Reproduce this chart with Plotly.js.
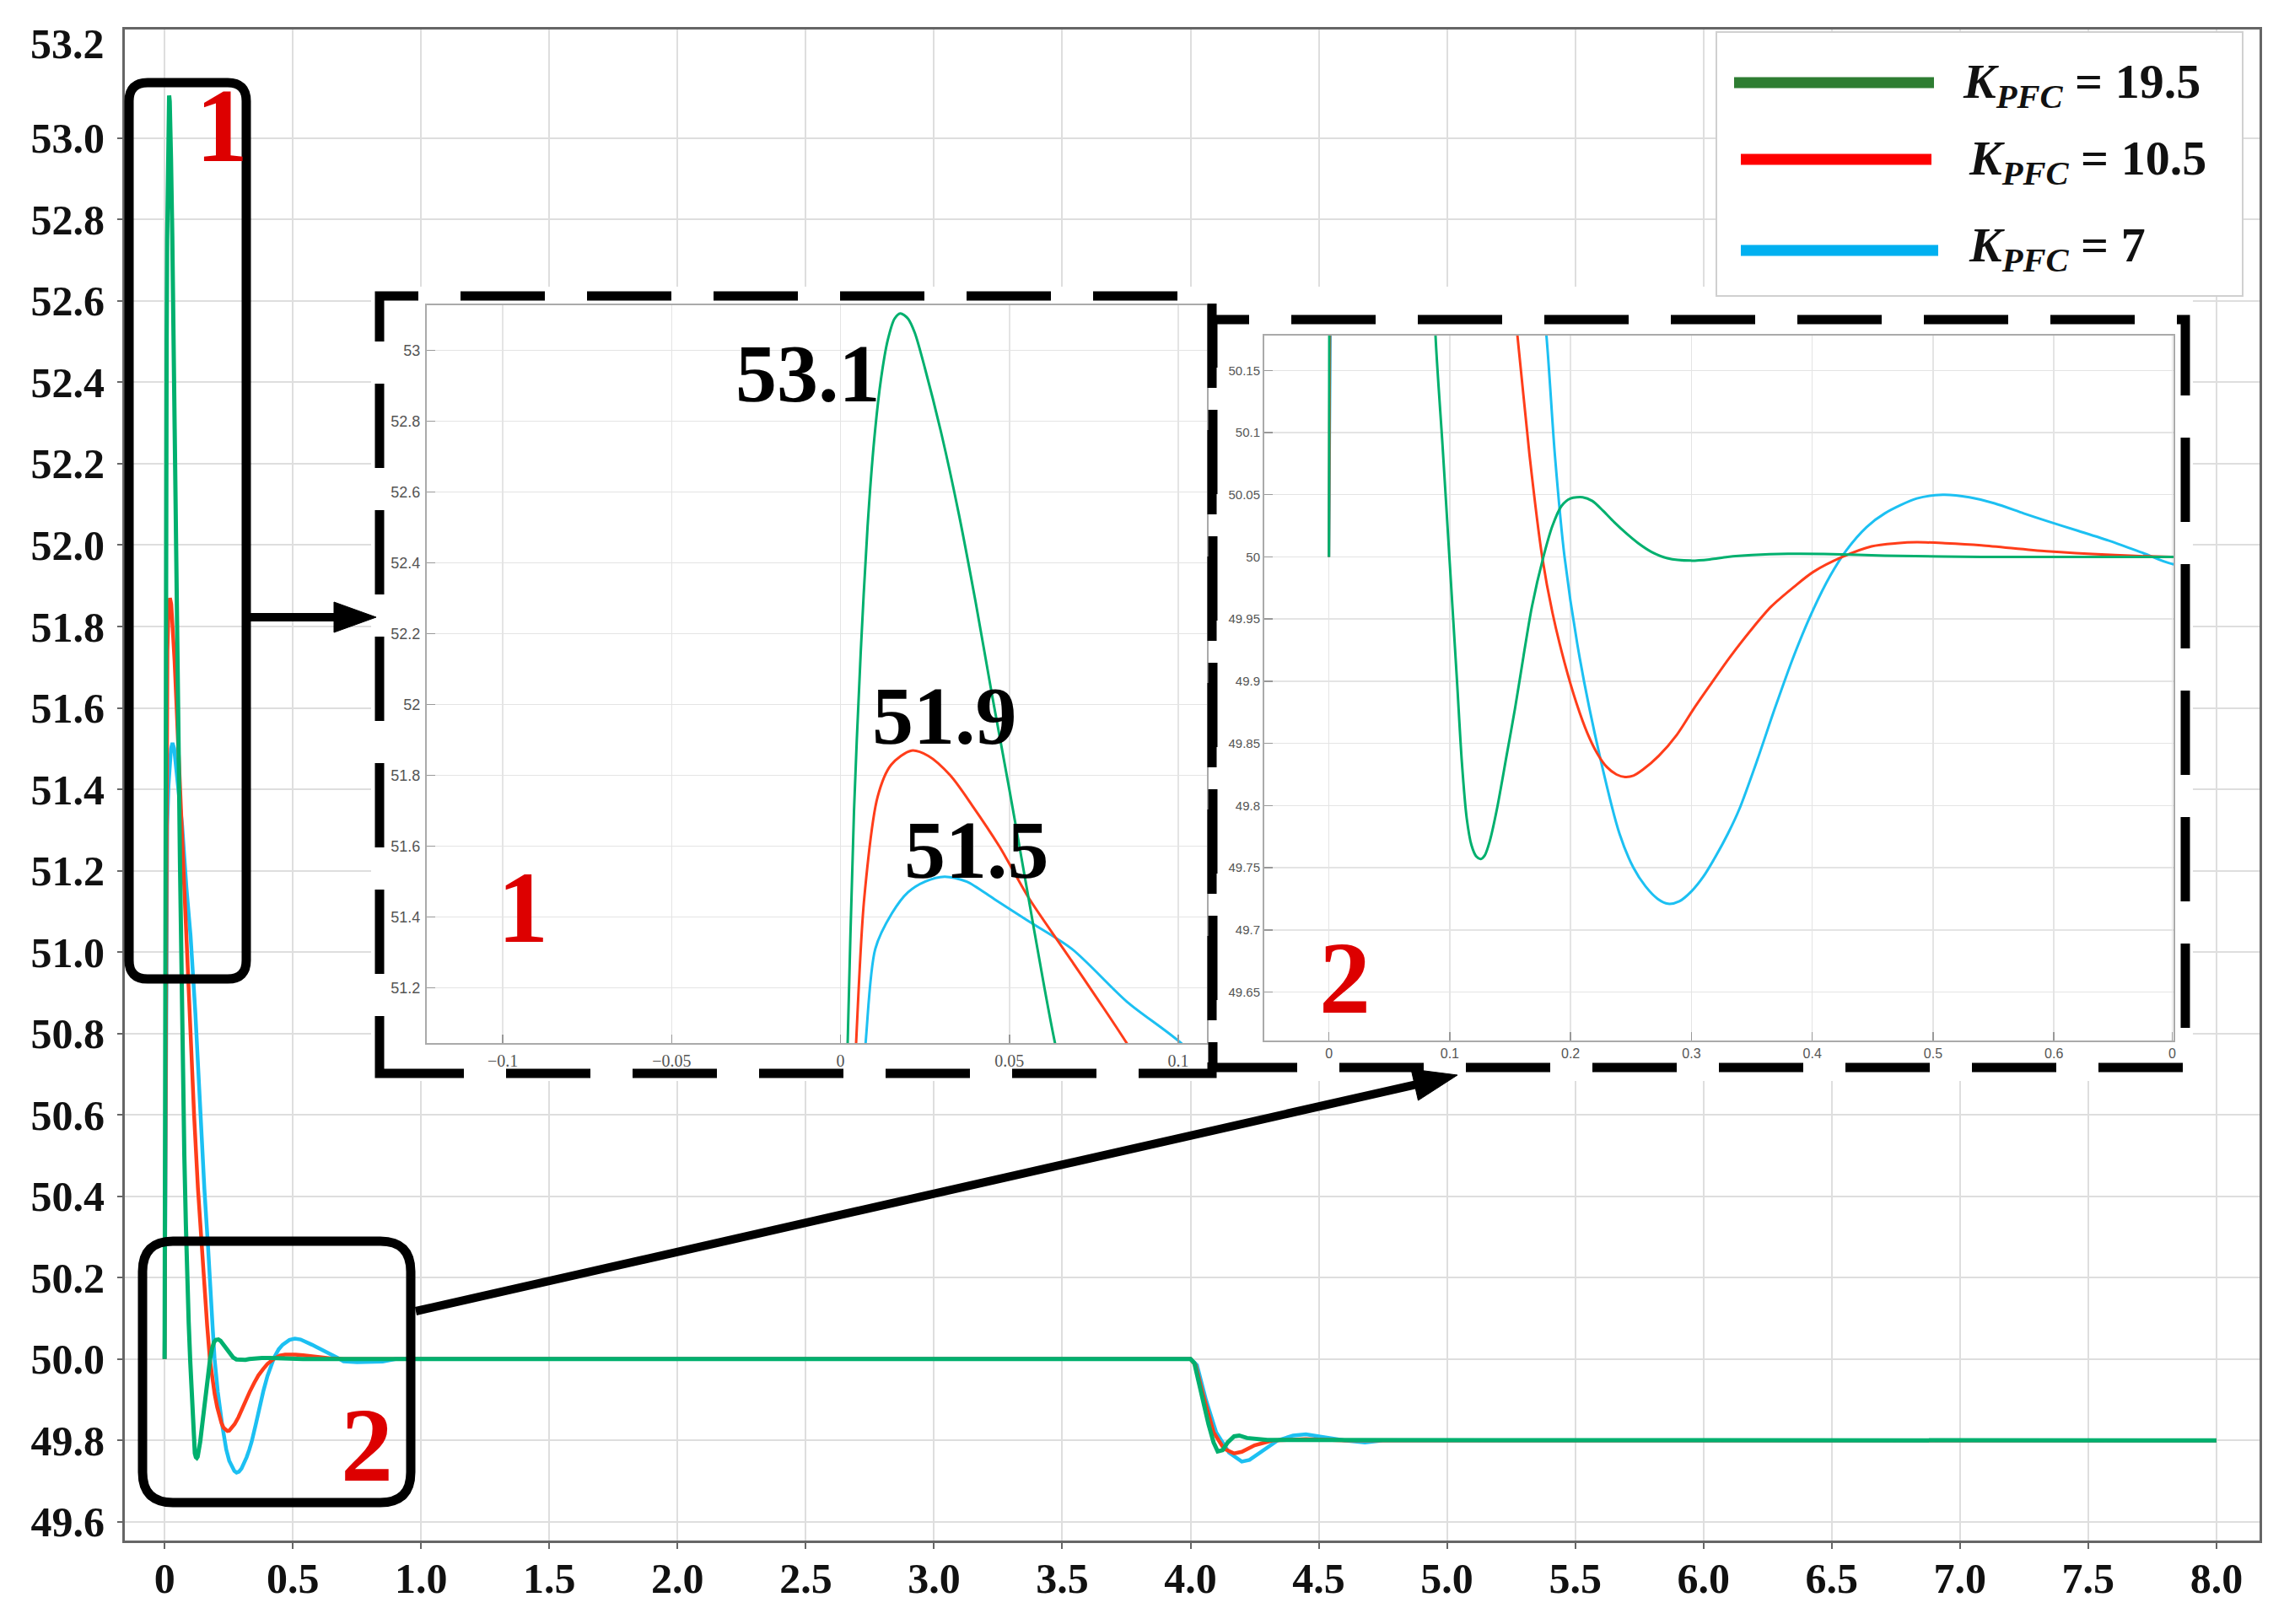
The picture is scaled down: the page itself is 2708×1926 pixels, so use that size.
<!DOCTYPE html>
<html><head><meta charset="utf-8">
<script src="https://cdn.plot.ly/plotly-3.0.1.min.js"></script>
<style>html,body{margin:0;padding:0;background:#fff;}</style>
</head><body><div id="chart" style="width:2708px;height:1926px;"></div>
<script>
// ---------------- data ----------------
const seriesNames = ['K_PFC = 19.5', 'K_PFC = 10.5', 'K_PFC = 7'];
const legendTexts = ['<i>K</i><sub><i>PFC</i></sub> = 19.5', '<i>K</i><sub><i>PFC</i></sub> = 10.5', '<i>K</i><sub><i>PFC</i></sub> = 7'];

const tGreen = [0, 0.001, 0.002, 0.004, 0.006, 0.008, 0.010, 0.012, 0.014, 0.016, 0.0177, 0.020, 0.022, 0.025, 0.030, 0.035, 0.040, 0.045, 0.050, 0.055, 0.060, 0.0636, 0.070, 0.077, 0.083, 0.0882, 0.094, 0.100, 0.106, 0.110, 0.114, 0.118, 0.122, 0.1257, 0.129, 0.133, 0.139, 0.147, 0.154, 0.161, 0.168, 0.1775, 0.185, 0.1925, 0.200, 0.210, 0.218, 0.227, 0.236, 0.246, 0.256, 0.267, 0.280, 0.2995, 0.315, 0.330, 0.350, 0.380, 0.410, 0.460, 0.540, 0.700, 4.000, 4.015, 4.040, 4.070, 4.090, 4.106, 4.125, 4.145, 4.170, 4.190, 4.220, 4.300, 8.000];
const fGreen = [50.0, 50.6, 51.0, 51.7, 52.15, 52.5, 52.75, 52.92, 53.03, 53.09, 53.105, 53.09, 53.05, 52.95, 52.76, 52.54, 52.29, 52.02, 51.76, 51.49, 51.22, 51.04, 50.78, 50.50, 50.33, 50.178, 50.09, 49.995, 49.90, 49.835, 49.79, 49.768, 49.759, 49.757, 49.760, 49.771, 49.797, 49.84, 49.878, 49.92, 49.96, 50.0, 50.025, 50.041, 50.047, 50.048, 50.045, 50.037, 50.028, 50.019, 50.011, 50.004, 49.999, 49.997, 49.998, 50.0, 50.0015, 50.0025, 50.0024, 50.001, 50.0, 50.0, 50.0, 49.99, 49.92, 49.84, 49.795, 49.773, 49.776, 49.795, 49.81, 49.812, 49.806, 49.801, 49.8];

const tRed = [0, 0.0046, 0.007, 0.011, 0.015, 0.021, 0.026, 0.0325, 0.039, 0.047, 0.056, 0.066, 0.0767, 0.085, 0.100, 0.115, 0.130, 0.145, 0.156, 0.166, 0.1765, 0.185, 0.195, 0.205, 0.214, 0.222, 0.230, 0.238, 0.245, 0.252, 0.260, 0.273, 0.288, 0.302, 0.317, 0.3316, 0.350, 0.366, 0.385, 0.401, 0.425, 0.449, 0.470, 0.4866, 0.510, 0.540, 0.594, 0.647, 0.698, 4.000, 4.020, 4.050, 4.090, 4.130, 4.170, 4.200, 4.250, 4.320, 4.450, 4.600, 8.000];
const fRed = [50.0, 51.04, 51.45, 51.74, 51.83, 51.87, 51.855, 51.80, 51.715, 51.60, 51.45, 51.31, 51.16, 51.04, 50.80, 50.60, 50.42, 50.27, 50.178, 50.082, 50.0, 49.955, 49.915, 49.882, 49.858, 49.842, 49.831, 49.825, 49.823, 49.824, 49.829, 49.840, 49.857, 49.878, 49.899, 49.919, 49.942, 49.96, 49.976, 49.988, 50.0, 50.0085, 50.011, 50.0118, 50.011, 50.0093, 50.0045, 50.0016, 50.0, 50.0, 49.985, 49.91, 49.82, 49.78, 49.768, 49.772, 49.788, 49.80, 49.803, 49.8, 49.8];

const tBlue = [0, 0.0074, 0.0103, 0.0152, 0.020, 0.025, 0.0308, 0.0374, 0.0456, 0.0554, 0.0685, 0.0849, 0.1013, 0.120, 0.137, 0.155, 0.170, 0.180, 0.187, 0.195, 0.2075, 0.2246, 0.2406, 0.252, 0.262, 0.272, 0.2807, 0.290, 0.300, 0.310, 0.320, 0.330, 0.3396, 0.355, 0.369, 0.385, 0.401, 0.415, 0.428, 0.445, 0.460, 0.4866, 0.508, 0.530, 0.551, 0.575, 0.5936, 0.620, 0.647, 0.674, 0.698, 0.750, 0.850, 0.900, 4.000, 4.025, 4.060, 4.100, 4.150, 4.200, 4.230, 4.280, 4.340, 4.400, 4.450, 4.500, 4.600, 4.680, 4.750, 8.000];
const fBlue = [50.0, 51.04, 51.31, 51.41, 51.47, 51.50, 51.514, 51.50, 51.45, 51.39, 51.31, 51.16, 51.04, 50.85, 50.63, 50.42, 50.27, 50.178, 50.082, 50.0, 49.919, 49.838, 49.777, 49.75, 49.735, 49.725, 49.721, 49.723, 49.731, 49.743, 49.759, 49.777, 49.797, 49.838, 49.878, 49.921, 49.958, 49.985, 50.005, 50.024, 50.035, 50.047, 50.05, 50.048, 50.043, 50.035, 50.029, 50.021, 50.0126, 50.003, 49.9943, 49.992, 49.994, 50.0, 50.0, 49.985, 49.90, 49.82, 49.77, 49.748, 49.752, 49.775, 49.80, 49.812, 49.815, 49.81, 49.80, 49.795, 49.80, 49.80];

// tick values / labels
const mainXTicks = [0, 0.5, 1, 1.5, 2, 2.5, 3, 3.5, 4, 4.5, 5, 5.5, 6, 6.5, 7, 7.5, 8];
const mainXText = ['0', '0.5', '1.0', '1.5', '2.0', '2.5', '3.0', '3.5', '4.0', '4.5', '5.0', '5.5', '6.0', '6.5', '7.0', '7.5', '8.0'];
const mainYTicks = [49.6, 49.8, 50.0, 50.2, 50.4, 50.6, 50.8, 51.0, 51.2, 51.4, 51.6, 51.8, 52.0, 52.2, 52.4, 52.6, 52.8, 53.0];
const mainYText = ['49.6', '49.8', '50.0', '50.2', '50.4', '50.6', '50.8', '51.0', '51.2', '51.4', '51.6', '51.8', '52.0', '52.2', '52.4', '52.6', '52.8', '53.0'];
const mainYExtraLabel = '53.2';
const in1XTicks = [-0.1, -0.05, 0, 0.05, 0.1];
const in1XText = ['\u22120.1', '\u22120.05', '0', '0.05', '0.1'];
const in1YTicks = [51.2, 51.4, 51.6, 51.8, 52.0, 52.2, 52.4, 52.6, 52.8, 53.0];
const in1YText = ['51.2', '51.4', '51.6', '51.8', '52', '52.2', '52.4', '52.6', '52.8', '53'];
const in2XTicks = [0, 0.1, 0.2, 0.3, 0.4, 0.5, 0.6, 0.698];
const in2XText = ['0', '0.1', '0.2', '0.3', '0.4', '0.5', '0.6', '0'];
const in2YTicks = [49.65, 49.7, 49.75, 49.8, 49.85, 49.9, 49.95, 50.0, 50.05, 50.1, 50.15];
const in2YText = ['49.65', '49.7', '49.75', '49.8', '49.85', '49.9', '49.95', '50', '50.05', '50.1', '50.15'];
const peakLabels = ['53.1', '51.9', '51.5'];
const zoomLabels = ['1', '2'];

// ---------------- geometry helpers ----------------
const W = 2708, H = 1926;
const M = {l: 148, r: 29, t: 35, b: 99};
const PW = W - M.l - M.r, PH = H - M.t - M.b;
const px = p => (p - M.l) / PW;
const py = p => (H - M.b - p) / PH;

const curveColors = ['#00B06E', '#FF3D1A', '#1CC0F2'];
const legendColors = ['#2E7D32', '#FF0000', '#00B0F0'];
const T = [tGreen, tRed, tBlue], F = [fGreen, fRed, fBlue];

const traces = [];
// main plot (blue, red, green order so green on top)
[2, 1, 0].forEach(i => traces.push({
  x: T[i], y: F[i], name: seriesNames[i], type: 'scatter', mode: 'lines',
  line: {color: curveColors[i], width: i === 0 ? 5 : 4.5}, showlegend: false,
  xaxis: 'x', yaxis: 'y'
}));
// cover subplot (empty)
traces.push({x: [], y: [], type: 'scatter', mode: 'lines', showlegend: false, xaxis: 'x2', yaxis: 'y2', hoverinfo: 'skip'});
// inset 1
[2, 1, 0].forEach(i => traces.push({
  x: T[i], y: F[i], name: seriesNames[i], type: 'scatter', mode: 'lines',
  line: {color: curveColors[i], width: 3, shape: 'spline', smoothing: 0.8}, showlegend: false,
  xaxis: 'x3', yaxis: 'y3'
}));
// inset 2
[2, 1, 0].forEach(i => traces.push({
  x: T[i], y: F[i], name: seriesNames[i], type: 'scatter', mode: 'lines',
  line: {color: curveColors[i], width: 3, shape: 'spline', smoothing: 0.8}, showlegend: false,
  xaxis: 'x4', yaxis: 'y4'
}));

const mainTickFont = {family: 'Liberation Serif', size: 50, color: '#111', weight: 'bold'};
const insetAxis = {
  showgrid: true, gridcolor: '#e4e4e4', gridwidth: 1.5, zeroline: false,
  showline: true, mirror: true, linecolor: '#aaaaaa', linewidth: 2,
  ticks: 'inside', ticklen: 10, tickcolor: '#999', tickwidth: 1.5, fixedrange: true
};

// ---------------- shapes ----------------
const shapes = [];
// white covers behind insets (drawn in cover subplot, pixel coordinates)
shapes.push({type: 'rect', xref: 'x2', yref: 'y2', layer: 'below', x0: 444, x1: 1444, y0: 345, y1: 1280, fillcolor: '#ffffff', line: {width: 0}});
shapes.push({type: 'rect', xref: 'x2', yref: 'y2', layer: 'below', x0: 1430, x1: 2598, y0: 372, y1: 1274, fillcolor: '#ffffff', line: {width: 0}});

// dashed boxes
function dashedBox(x0, y0, x1, y1) {
  return {type: 'rect', xref: 'paper', yref: 'paper', layer: 'above',
    x0: px(x0), x1: px(x1), y0: py(y1), y1: py(y0),
    line: {color: '#000', width: 11, dash: '100px,50px'}, fillcolor: 'rgba(0,0,0,0)'};
}
shapes.push(dashedBox(450, 351, 1437, 1273));
shapes.push(dashedBox(1438, 379, 2591, 1266));

// rounded solid boxes
function rr(x0, y0, x1, y1, r) {
  const P = (x, y) => px(x).toFixed(5) + ',' + py(y).toFixed(5);
  return 'M' + P(x0 + r, y0) + ' L' + P(x1 - r, y0) + ' Q' + P(x1, y0) + ' ' + P(x1, y0 + r) +
    ' L' + P(x1, y1 - r) + ' Q' + P(x1, y1) + ' ' + P(x1 - r, y1) +
    ' L' + P(x0 + r, y1) + ' Q' + P(x0, y1) + ' ' + P(x0, y1 - r) +
    ' L' + P(x0, y0 + r) + ' Q' + P(x0, y0) + ' ' + P(x0 + r, y0) + ' Z';
}
shapes.push({type: 'path', xref: 'paper', yref: 'paper', layer: 'above', path: rr(153, 98, 292, 1161, 22), line: {color: '#000', width: 11}});
shapes.push({type: 'path', xref: 'paper', yref: 'paper', layer: 'above', path: rr(169, 1472, 487, 1782, 36), line: {color: '#000', width: 11}});

// arrows
function arrow(x0, y0, x1, y1, hl, hw) {
  const dx = x1 - x0, dy = y1 - y0, L = Math.hypot(dx, dy);
  const ux = dx / L, uy = dy / L, nx = -uy, ny = ux;
  const bx = x1 - hl * ux, by = y1 - hl * uy;
  shapes.push({type: 'line', xref: 'paper', yref: 'paper', layer: 'above',
    x0: px(x0), y0: py(y0), x1: px(bx + 2 * ux), y1: py(by + 2 * uy), line: {color: '#000', width: 10}});
  const P = (x, y) => px(x).toFixed(5) + ',' + py(y).toFixed(5);
  shapes.push({type: 'path', xref: 'paper', yref: 'paper', layer: 'above',
    path: 'M' + P(x1, y1) + ' L' + P(bx + hw * nx, by + hw * ny) + ' L' + P(bx - hw * nx, by - hw * ny) + ' Z',
    fillcolor: '#000', line: {color: '#000', width: 1}});
}
arrow(297, 732, 446, 732, 50, 18);
arrow(493, 1555, 1728, 1275, 52, 19);

// legend box + lines
shapes.push({type: 'rect', xref: 'paper', yref: 'paper', layer: 'above',
  x0: px(2035), x1: px(2659), y0: py(351), y1: py(38), fillcolor: '#ffffff', line: {color: '#d0d0d0', width: 2}});
const legY = [98, 189, 297];
const legX0 = [2056, 2064, 2064], legX1 = [2293, 2290, 2298];
for (let i = 0; i < 3; i++) {
  shapes.push({type: 'line', xref: 'paper', yref: 'paper', layer: 'above',
    x0: px(legX0[i]), x1: px(legX1[i]), y0: py(legY[i]), y1: py(legY[i]), line: {color: legendColors[i], width: 13}});
}

// ---------------- annotations ----------------
const annotations = [];
function txt(text, x, y, font, xanchor) {
  annotations.push({text: text, xref: 'paper', yref: 'paper', x: px(x), y: py(y),
    xanchor: xanchor || 'center', yanchor: 'middle', showarrow: false, font: font});
}
txt(mainYExtraLabel, 126, 52, mainTickFont, 'right');
const redFont = {family: 'Liberation Serif', size: 124, color: '#DD0000', weight: 'bold'};
txt(zoomLabels[0], 263, 150, redFont);
txt(zoomLabels[1], 435, 1714, redFont);
txt(zoomLabels[0], 620, 1076, Object.assign({}, redFont, {size: 120}));
txt(zoomLabels[1], 1594, 1159, Object.assign({}, redFont, {size: 122}));
const peakFont = {family: 'Liberation Serif', size: 98, color: '#000', weight: 'bold'};
txt(peakLabels[0], 958, 443, peakFont);
txt(peakLabels[1], 1120, 849, peakFont);
txt(peakLabels[2], 1158, 1008, peakFont);
const legFont = {family: 'Liberation Serif', size: 58, color: '#111', weight: 'bold'};
txt(legendTexts[0], 2325, 101, legFont, 'left');
txt(legendTexts[1], 2332, 192, legFont, 'left');
txt(legendTexts[2], 2332, 294, legFont, 'left');

const layout = {
  width: W, height: H,
  margin: M,
  paper_bgcolor: '#ffffff', plot_bgcolor: '#ffffff',
  showlegend: false,
  xaxis: {
    domain: [0, 1], anchor: 'y', range: [-0.155, 8.168], tickmode: 'array', tickvals: mainXTicks, ticktext: mainXText,
    showgrid: true, gridcolor: '#dedede', gridwidth: 2, zeroline: false,
    showline: true, mirror: true, linecolor: '#666', linewidth: 3,
    ticks: 'outside', ticklen: 7, tickwidth: 2, tickcolor: '#666', ticklabelstandoff: -8,
    tickfont: mainTickFont, fixedrange: true
  },
  yaxis: {
    domain: [0, 1], anchor: 'x', range: [49.554, 53.267], tickmode: 'array', tickvals: mainYTicks, ticktext: mainYText,
    showgrid: true, gridcolor: '#dedede', gridwidth: 2, zeroline: false,
    showline: true, mirror: true, linecolor: '#666', linewidth: 3,
    ticks: 'outside', ticklen: 6, tickwidth: 2, tickcolor: '#666', ticklabelstandoff: 5,
    tickfont: mainTickFont, fixedrange: true
  },
  xaxis2: {domain: [px(440), px(2600)], anchor: 'y2', range: [440, 2600], visible: false, fixedrange: true},
  yaxis2: {domain: [py(1282), py(340)], anchor: 'x2', range: [1282, 340], visible: false, fixedrange: true},
  xaxis3: Object.assign({}, insetAxis, {
    domain: [px(506), px(1431)], anchor: 'y3', range: [-0.1225, 0.1085], tickmode: 'array', tickvals: in1XTicks, ticktext: in1XText,
    tickfont: {family: 'Liberation Serif', size: 20, color: '#555'}, ticklabelstandoff: 2
  }),
  yaxis3: Object.assign({}, insetAxis, {
    domain: [py(1237), py(362)], anchor: 'x3', range: [51.044, 53.128], tickmode: 'array', tickvals: in1YTicks, ticktext: in1YText,
    tickfont: {family: 'Liberation Sans', size: 18, color: '#555'}, ticklabelstandoff: 2
  }),
  xaxis4: Object.assign({}, insetAxis, {
    domain: [px(1499), px(2577)], anchor: 'y4', range: [-0.0535, 0.699], tickmode: 'array', tickvals: in2XTicks, ticktext: in2XText,
    tickfont: {family: 'Liberation Sans', size: 16, color: '#555'}, ticklabelstandoff: 0
  }),
  yaxis4: Object.assign({}, insetAxis, {
    domain: [py(1234), py(398)], anchor: 'x4', range: [49.611, 50.178], tickmode: 'array', tickvals: in2YTicks, ticktext: in2YText,
    tickfont: {family: 'Liberation Sans', size: 15, color: '#555'}, ticklabelstandoff: 0
  }),
  shapes: shapes,
  annotations: annotations
};

Plotly.newPlot('chart', traces, layout, {staticPlot: true, displayModeBar: false});
</script></body></html>
